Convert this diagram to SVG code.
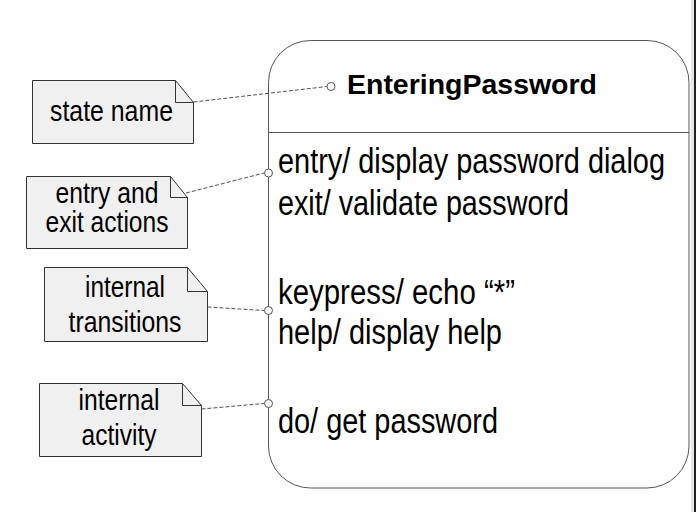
<svg xmlns="http://www.w3.org/2000/svg" width="696" height="512" viewBox="0 0 696 512">
<style>
text{font-family:"Liberation Sans",Arial,sans-serif;fill:#000}
.note{fill:#f0f0f0;stroke:#333;stroke-width:1}
.fold{fill:none;stroke:#333;stroke-width:1}
.nt{font-size:24.8px;text-anchor:middle}
.st{font-size:28.9px}
.conn{fill:none;stroke:#555;stroke-width:1;stroke-dasharray:4 2}
.pin{fill:#fff;stroke:#555;stroke-width:1}
</style>
<rect width="696" height="512" fill="#fff"/>
<rect x="691" y="0" width="3" height="512" fill="#e6e6e6"/>
<rect x="694" y="0" width="2" height="512" fill="#222"/>

<g id="state">
<rect x="268.5" y="40.5" width="420.5" height="447.5" rx="42" ry="42" fill="#fff" stroke="#555" stroke-width="1"/>
<line x1="268.5" y1="132.5" x2="689" y2="132.5" stroke="#555" stroke-width="1"/>
<text x="347" y="94" textLength="250" lengthAdjust="spacingAndGlyphs" style="font-size:28.5px;font-weight:bold">EnteringPassword</text>
<g transform="scale(1,1.19)">
<text class="st" x="278" y="145.38" textLength="387" lengthAdjust="spacingAndGlyphs">entry/ display password dialog</text>
<text class="st" x="278" y="180.67" textLength="291" lengthAdjust="spacingAndGlyphs">exit/ validate password</text>
<text class="st" x="278" y="255.46" textLength="237" lengthAdjust="spacingAndGlyphs">keypress/ echo “*”</text>
<text class="st" x="278" y="289.08" textLength="224" lengthAdjust="spacingAndGlyphs">help/ display help</text>
<text class="st" x="278" y="363.87" textLength="220" lengthAdjust="spacingAndGlyphs">do/ get password</text>
</g>
</g>

<g id="note-state-name">
<path class="note" d="M32.5,80.5 H175.5 L193.5,102.5 V143.5 H32.5 Z"/>
<path class="fold" d="M175.5,80.5 V102.5 H193.5"/>
<text class="nt" transform="scale(1,1.19)" x="111.5" y="102.1" textLength="123" lengthAdjust="spacingAndGlyphs">state name</text>
</g>

<g id="note-entry-exit">
<path class="note" d="M26.5,176.5 H170.5 L187.5,197.5 V248.5 H26.5 Z"/>
<path class="fold" d="M170.5,176.5 V197.5 H187.5"/>
<g transform="scale(1,1.19)">
<text class="nt" x="107" y="170.59" textLength="103" lengthAdjust="spacingAndGlyphs">entry and</text>
<text class="nt" x="107" y="194.96" textLength="123" lengthAdjust="spacingAndGlyphs">exit actions</text>
</g>
</g>

<g id="note-internal-transitions">
<path class="note" d="M44.5,267.5 H187.5 L207.5,291.5 V341.5 H44.5 Z"/>
<path class="fold" d="M187.5,267.5 V291.5 H207.5"/>
<g transform="scale(1,1.19)">
<text class="nt" x="125" y="249.58" textLength="80" lengthAdjust="spacingAndGlyphs">internal</text>
<text class="nt" x="125" y="278.99" textLength="113" lengthAdjust="spacingAndGlyphs">transitions</text>
</g>
</g>

<g id="note-internal-activity">
<path class="note" d="M39.5,383.5 H182.5 L201.5,405.5 V456.5 H39.5 Z"/>
<path class="fold" d="M182.5,383.5 V405.5 H201.5"/>
<g transform="scale(1,1.19)">
<text class="nt" x="119" y="344.54" textLength="81" lengthAdjust="spacingAndGlyphs">internal</text>
<text class="nt" x="119" y="373.95" textLength="75" lengthAdjust="spacingAndGlyphs">activity</text>
</g>
</g>

<g id="connectors">
<line class="conn" x1="193.5" y1="102" x2="327" y2="86.5"/>
<line class="conn" x1="186" y1="193" x2="264" y2="173"/>
<line class="conn" x1="207.5" y1="307" x2="264" y2="310.5"/>
<line class="conn" x1="201.5" y1="409" x2="264" y2="403.5"/>
<circle class="pin" cx="331" cy="86.5" r="4"/>
<circle class="pin" cx="268.5" cy="173" r="4"/>
<circle class="pin" cx="268.5" cy="310.5" r="4"/>
<circle class="pin" cx="268.5" cy="403.5" r="4"/>
</g>
</svg>
